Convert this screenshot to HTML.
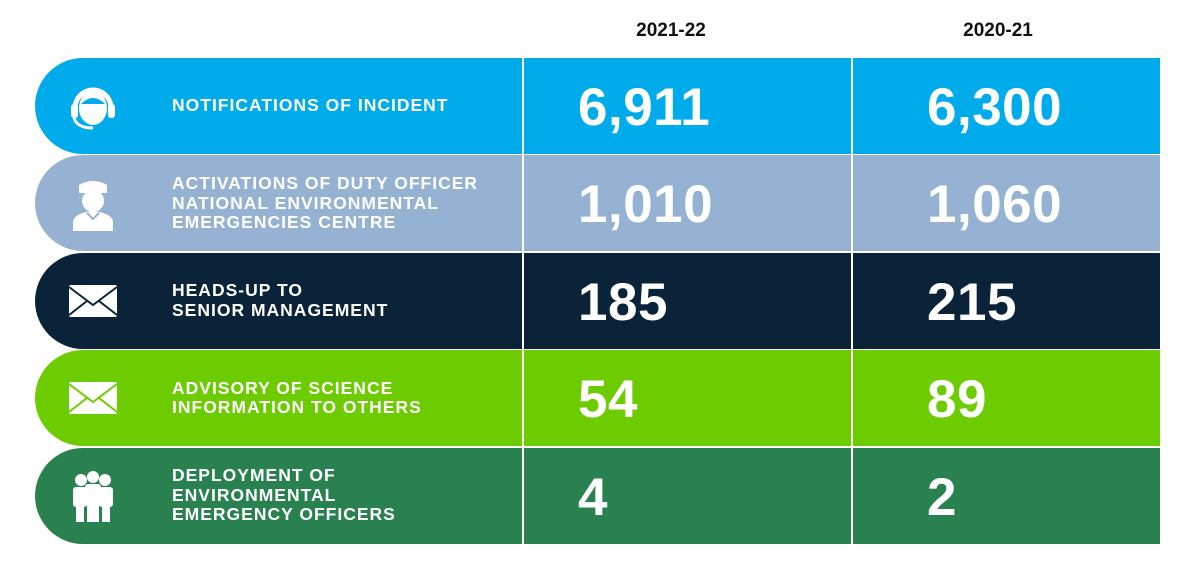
<!DOCTYPE html>
<html><head><meta charset="utf-8"><style>
body{margin:0;width:1200px;height:582px;background:#fff;overflow:hidden;font-family:"Liberation Sans",sans-serif}
#c{position:relative;width:1200px;height:582px}
.hdr{position:absolute;top:20px;font-weight:bold;font-size:19px;color:#111;width:200px;text-align:center}
.row{position:absolute;left:35px;width:1125px;height:96px;border-radius:48px 0 0 48px}
.lbl{position:absolute;left:137px;top:0;height:96px;display:flex;align-items:center;color:#fff;font-weight:bold;font-size:17.5px;line-height:19.5px;letter-spacing:1px}
.num{position:absolute;top:2px;height:96px;line-height:96px;color:#fff;font-weight:bold;font-size:53px;letter-spacing:0.5px}
.div{position:absolute;top:58px;width:2px;height:487px;background:#fff}
.ic{position:absolute;left:30px;top:20px;width:56px;height:56px}
</style></head><body><div id="c">
<div class="hdr" style="left:571px">2021-22</div>
<div class="hdr" style="left:898px">2020-21</div>
</div>
<script>
const labels=["NOTIFICATIONS OF INCIDENT","ACTIVATIONS OF DUTY OFFICER<br>NATIONAL ENVIRONMENTAL<br>EMERGENCIES CENTRE","HEADS-UP TO<br>SENIOR MANAGEMENT","ADVISORY OF SCIENCE<br>INFORMATION TO OTHERS","DEPLOYMENT OF<br>ENVIRONMENTAL<br>EMERGENCY OFFICERS"];
const values2122=["6,911","1,010","185","54","4"];
const values2021=["6,300","1,060","215","89","2"];
const colors=["#00abec","#95b2d3","#0a2339","#6ccc00","#2a8150"];
const names=["notifications","activations","heads-up","advisory","deployment"];
const icons=[
'<svg viewBox="0 0 56 56"><path d="M10 30 A18 18 0 0 1 46 30" fill="none" stroke="#fff" stroke-width="5"/><ellipse cx="28" cy="30" rx="14" ry="17" fill="#fff"/><path d="M16 26 Q28 14 40 26" fill="#00abec"/><rect x="6" y="26" width="7" height="14" rx="3" fill="#fff"/><rect x="43" y="26" width="7" height="14" rx="3" fill="#fff"/><path d="M9 40 Q12 50 28 50" fill="none" stroke="#fff" stroke-width="3"/></svg>',
'<svg viewBox="0 0 56 56"><path d="M14 10 Q28 2 42 10 L42 18 L14 18Z" fill="#fff"/><ellipse cx="28" cy="26" rx="11" ry="11" fill="#fff"/><path d="M8 56 L8 46 Q10 38 28 36 Q46 38 48 46 L48 56Z" fill="#fff"/><path d="M22 38 L28 44 L34 38" fill="none" stroke="#95b2d3" stroke-width="2"/></svg>',
'<svg viewBox="0 0 56 56"><rect x="4" y="12" width="48" height="32" rx="2" fill="#fff"/><path d="M4 14 L28 32 L52 14 M4 42 L22 28 M52 42 L34 28" fill="none" stroke="#0a2339" stroke-width="2"/></svg>',
'<svg viewBox="0 0 56 56"><rect x="4" y="12" width="48" height="32" rx="2" fill="#fff"/><path d="M4 14 L28 32 L52 14 M4 42 L22 28 M52 42 L34 28" fill="none" stroke="#6ccc00" stroke-width="2"/></svg>',
'<svg viewBox="0 0 56 56" fill="#fff"><circle cx="16" cy="12" r="6"/><circle cx="40" cy="12" r="6"/><circle cx="28" cy="9" r="6"/><rect x="8" y="19" width="14" height="20" rx="3"/><rect x="34" y="19" width="14" height="20" rx="3"/><rect x="20" y="16" width="16" height="22" rx="3"/><rect x="11" y="36" width="8" height="18"/><rect x="37" y="36" width="8" height="18"/><rect x="22" y="36" width="12" height="18"/></svg>'];
const c=document.getElementById('c');
const top0=58,rowH=97.4;
for(let i=0;i<labels.length;i++){
 const r=document.createElement('div');r.className='row';
 
 
 r.style.top=(top0+i*rowH)+'px';r.style.background=colors[i];
 r.innerHTML='<div class="ic">'+icons[i]+'</div>';
 const l=document.createElement('div');l.className='lbl';l.innerHTML=labels[i];
 
 
 r.appendChild(l);
 const a=document.createElement('div');a.className='num';a.style.left='543px';a.textContent=values2122[i];
 
 
 r.appendChild(a);
 const b=document.createElement('div');b.className='num';b.style.left='892px';b.textContent=values2021[i];
 
 
 r.appendChild(b);
 c.appendChild(r);
}
[522,851].forEach(x=>{const d=document.createElement('div');d.className='div';d.style.left=x+'px';
 
 
 c.appendChild(d);});
</script></body></html>
